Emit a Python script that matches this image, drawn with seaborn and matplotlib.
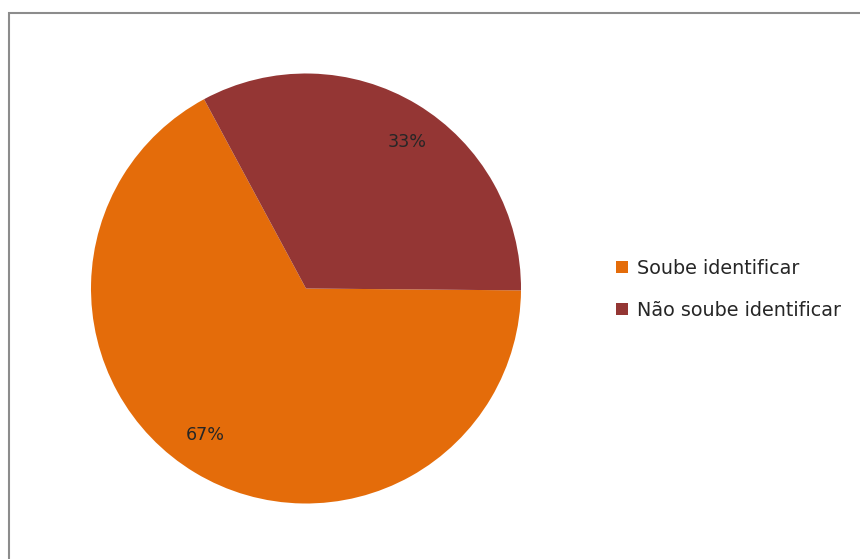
import matplotlib
matplotlib.use("Agg")
import matplotlib.pyplot as plt
import seaborn as sns
import numpy as np
from matplotlib.patches import Rectangle, Patch

sns.set_theme(style="white")
plt.rcParams['font.family'] = ['DejaVu Sans']

categories = ["Soube identificar", "Não soube identificar"]
values = [67, 33]
colors = ["#E46C0A", "#943634"]

W, H = 860, 559
fig = plt.figure(figsize=(W / 100, H / 100), dpi=100)
fig.patch.set_facecolor("white")

# frame border (left and top visible)
fig.add_artist(Rectangle((8.5 / W, -0.1), 1.2, (H - 13.5) / H + 0.1,
                         transform=fig.transFigure, fill=False,
                         edgecolor="#8c8c8c", linewidth=1.5))

cx, cy, r = 306, 288.5, 215
ax = fig.add_axes([(cx - r) / W, (H - cy - r) / H, 2 * r / W, 2 * r / H])
wedges, texts, autotexts = ax.pie(
    values, colors=colors, startangle=-0.5, counterclock=False,
    autopct=lambda p: f"{p:.0f}%", pctdistance=0.825, radius=1,
    wedgeprops=dict(linewidth=0),
    textprops=dict(fontsize=12.6, color="#262626"))
# Excel-like label placement: slight clockwise shift
rot = np.deg2rad(-3.5)
for t in autotexts:
    x, y = t.get_position()
    t.set_position((x * np.cos(rot) - y * np.sin(rot),
                    x * np.sin(rot) + y * np.cos(rot)))
ax.set_xlim(-1, 1)
ax.set_ylim(-1, 1)
ax.set_aspect("equal")
ax.axis("off")

handles = [Patch(facecolor=c, edgecolor="none") for c in colors]
leg = fig.legend(handles, categories, loc="center left",
                 bbox_to_anchor=(601 / W, 1 - 289.5 / H), frameon=False,
                 fontsize=13.8, handlelength=0.62, handleheight=0.62,
                 handletextpad=0.46, labelspacing=1.2, labelcolor="#262626",
                 borderpad=0.3)

fig.savefig("out.png", dpi=100, facecolor="white")
